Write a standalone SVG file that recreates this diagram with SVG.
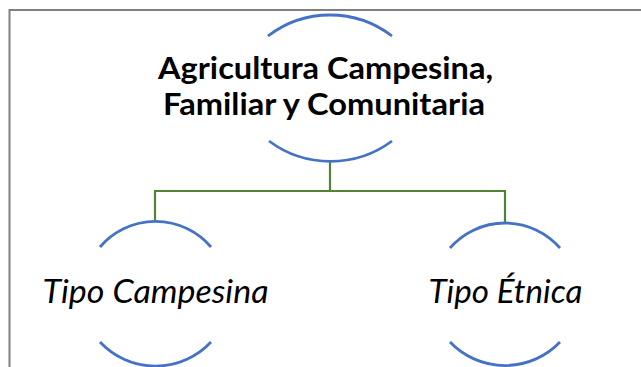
<svg xmlns="http://www.w3.org/2000/svg" width="641" height="367" viewBox="0 0 641 367">
<style>
.arc{fill:none;stroke:#4472C4;stroke-width:2.8}
.conn{fill:none;stroke:#548235;stroke-width:2.2}
.title{font-family:Lato,"Liberation Sans",sans-serif;font-weight:bold;font-size:30px;fill:#000}
.sub{font-family:Lato,"Liberation Sans",sans-serif;font-style:italic;font-size:33px;fill:#000}
</style>
<rect width="641" height="367" fill="#fff"/>
<path d="M9.5,367 V10 H641" fill="none" stroke="#808080" stroke-width="2"/>
<g id="connectors">
<path class="conn" d="M330,161 V191 M155,222 V191 H505 V222"/>
</g>
<g id="node-root">
<path class="arc" d="M268,36 A102,102 0 0 1 392,36"/>
<path class="arc" d="M269,141 A103,103 0 0 0 392,141"/>
<text class="title" x="325.5" y="79" text-anchor="middle" textLength="335" lengthAdjust="spacingAndGlyphs">Agricultura Campesina,</text>
<text class="title" x="324" y="115" text-anchor="middle" textLength="322" lengthAdjust="spacingAndGlyphs">Familiar y Comunitaria</text>
</g>
<g id="node-campesina">
<path class="arc" d="M100,247 A73,73 0 0 1 211,247"/>
<path class="arc" d="M100,342 A76,76 0 0 0 211,342"/>
<text class="sub" x="155.5" y="303" text-anchor="middle" textLength="226" lengthAdjust="spacingAndGlyphs">Tipo Campesina</text>
</g>
<g id="node-etnica">
<path class="arc" d="M450,248 A73,73 0 0 1 560,248"/>
<path class="arc" d="M450,342 A76,76 0 0 0 560,342"/>
<text class="sub" x="505.5" y="303" text-anchor="middle" textLength="154" lengthAdjust="spacingAndGlyphs">Tipo Étnica</text>
</g>
</svg>
